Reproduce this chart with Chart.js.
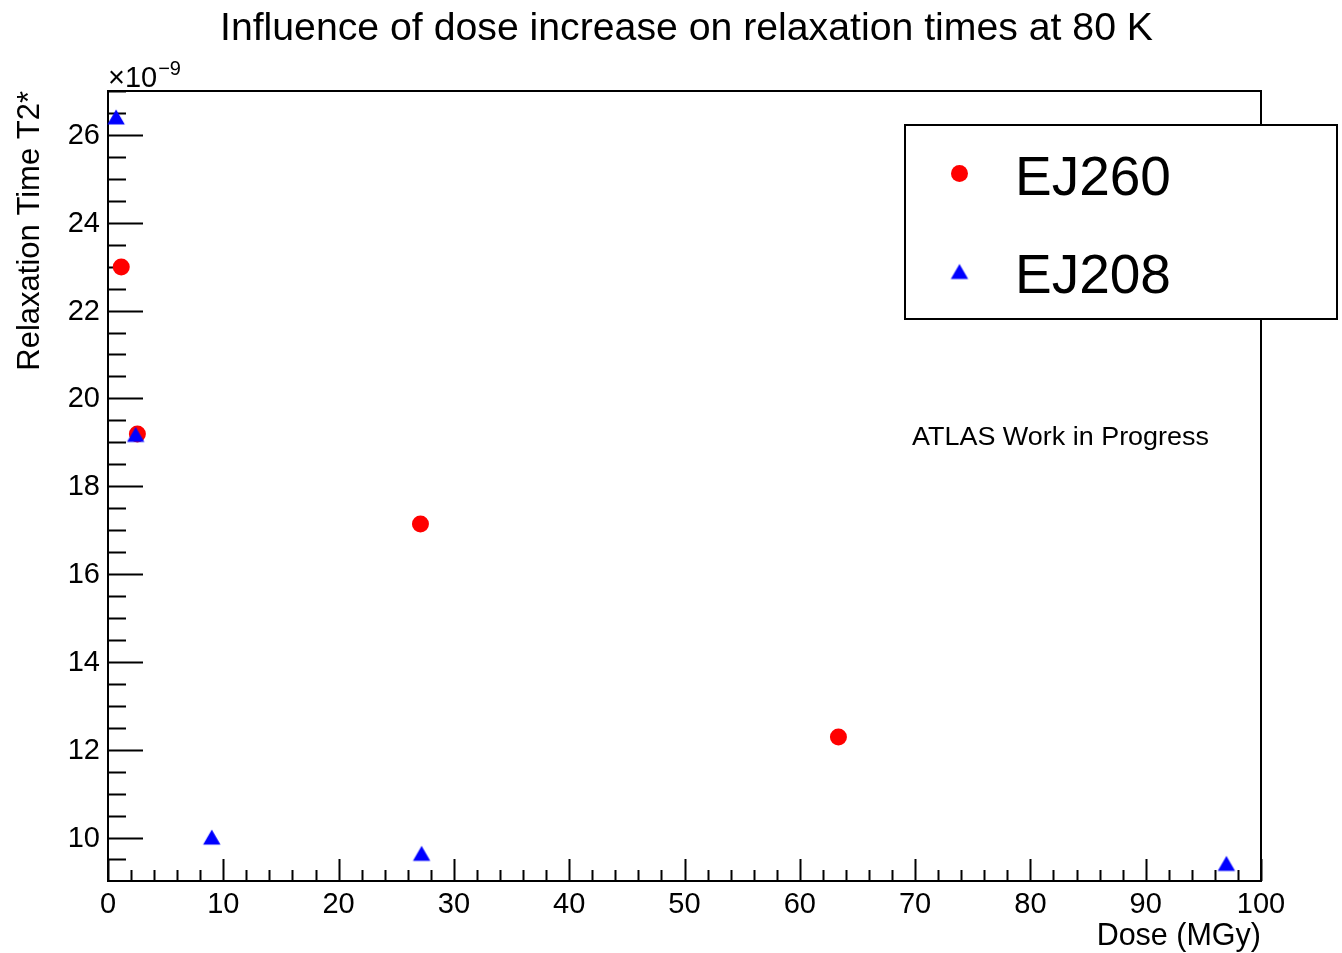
<!DOCTYPE html>
<html>
<head>
<meta charset="utf-8">
<title>Relaxation times vs dose</title>
<script src="https://cdn.jsdelivr.net/npm/chart.js@4.4.1/dist/chart.umd.min.js"></script>
<style>
  body { margin: 0; background: #fff; }
  #wrap { width: 1342px; height: 953px; }
</style>
</head>
<body>
<div id="wrap"><canvas id="relaxChart" width="1342" height="953"></canvas></div>
<script>
// values (dose in MGy, T2* in units of 1e-9 s)
const ej260Dose = [1.15, 2.55, 27.1, 63.35];
const ej260T2 = [22.99, 19.19, 17.14, 12.29];
const ej208Dose = [0.7, 2.4, 9.0, 27.2, 97.0];
const ej208T2 = [26.41, 19.18, 10.01, 9.64, 9.41];

// axis ticks
const xMajorTicks = [0, 10, 20, 30, 40, 50, 60, 70, 80, 90, 100];
const xTickLabels = ['0', '10', '20', '30', '40', '50', '60', '70', '80', '90', '100'];
const yMajorTicks = [10, 12, 14, 16, 18, 20, 22, 24, 26];
const yTickLabels = ['10', '12', '14', '16', '18', '20', '22', '24', '26'];
const xMinorStep = 2;
const yMinorStep = 0.5;

const FONT = '"Liberation Sans", Arial, Helvetica, sans-serif';

// ROOT style up-triangle: centred on its bounding box
function makeTriangle(color) {
    const c = document.createElement('canvas');
    c.width = 20;
    c.height = 20;
    const g = c.getContext('2d');
    g.fillStyle = color;
    g.beginPath();
    g.moveTo(10, 2.5);
    g.lineTo(18.7, 17.5);
    g.lineTo(1.3, 17.5);
    g.closePath();
    g.fill();
    return c;
}
const blueTriangle = makeTriangle('#0000ff');

function toPoints(xs, ys) {
    return xs.map((x, i) => ({ x: x, y: ys[i] }));
}

// draw text squeezed/stretched to a given width
function fitText(ctx, text, x, y, width) {
    const w = ctx.measureText(text).width;
    ctx.save();
    ctx.translate(x, y);
    ctx.scale(width / w, 1);
    ctx.fillText(text, 0, 0);
    ctx.restore();
}

// frame plus inward ROOT-like ticks, drawn under the markers
const framePlugin = {
    id: 'frame',
    beforeDatasetsDraw(chart) {
        const ctx = chart.ctx;
        const a = chart.chartArea;
        const xs = chart.scales.x;
        const ys = chart.scales.y;
        ctx.save();
        ctx.strokeStyle = '#000';
        ctx.lineWidth = 2;
        ctx.strokeRect(a.left, a.top, a.right - a.left, a.bottom - a.top);

        ctx.beginPath();
        // x ticks
        for (let v = xs.min; v <= xs.max + 1e-9; v += xMinorStep) {
            const px = Math.round(xs.getPixelForValue(v)) + 0.5;
            const major = xMajorTicks.some(t => Math.abs(t - v) < 1e-6);
            ctx.moveTo(px, a.bottom);
            ctx.lineTo(px, a.bottom - (major ? 22 : 11));
        }
        // y ticks
        const yStart = Math.ceil(ys.min / yMinorStep) * yMinorStep;
        for (let v = yStart; v <= ys.max + 1e-9; v += yMinorStep) {
            const py = Math.round(ys.getPixelForValue(v)) + 0.5;
            const major = yMajorTicks.some(t => Math.abs(t - v) < 1e-6);
            ctx.moveTo(a.left, py);
            ctx.lineTo(a.left + (major ? 35 : 18), py);
        }
        ctx.stroke();

        // tick labels
        ctx.fillStyle = '#000';
        ctx.font = '29px ' + FONT;
        ctx.textAlign = 'center';
        ctx.textBaseline = 'alphabetic';
        xMajorTicks.forEach((t, i) => {
            ctx.fillText(xTickLabels[i], xs.getPixelForValue(t), 913);
        });
        ctx.textAlign = 'right';
        ctx.textBaseline = 'middle';
        yMajorTicks.forEach((t, i) => {
            ctx.fillText(yTickLabels[i], 100, ys.getPixelForValue(t) + 1);
        });
        ctx.restore();
    },
    afterDraw(chart) {
        const ctx = chart.ctx;
        const a = chart.chartArea;
        ctx.save();
        ctx.fillStyle = '#000';
        ctx.textBaseline = 'alphabetic';
        ctx.textAlign = 'left';

        // title, squeezed to the width it has in the original
        ctx.font = '38px ' + FONT;
        fitText(ctx, 'Influence of dose increase on relaxation times at 80 K', 220, 40, 933);

        // axis titles
        ctx.font = '30.5px ' + FONT;
        ctx.textAlign = 'right';
        ctx.fillText('Dose (MGy)', a.right, 945);
        ctx.save();
        ctx.translate(39, a.top);
        ctx.rotate(-Math.PI / 2);
        ctx.font = '31px ' + FONT;
        ctx.fillText('Relaxation Time T2*', 0, 0);
        ctx.restore();

        // exponent label
        ctx.textAlign = 'left';
        ctx.font = '29px ' + FONT;
        ctx.fillText('\u00d710', 108, 87);
        const ew = ctx.measureText('\u00d710').width;
        ctx.font = '20px ' + FONT;
        ctx.fillText('\u22129', 108 + ew + 1, 75);

        // annotation
        ctx.font = '26px ' + FONT;
        fitText(ctx, 'ATLAS Work in Progress', 912, 445, 297);

        // legend box
        ctx.fillStyle = '#fff';
        ctx.fillRect(905, 125, 432, 194);
        ctx.strokeStyle = '#000';
        ctx.lineWidth = 2;
        ctx.strokeRect(905, 125, 432, 194);
        const ds = chart.data.datasets;
        // red circle entry
        ctx.fillStyle = ds[0].backgroundColor;
        ctx.beginPath();
        ctx.arc(959.5, 173.5, ds[0].pointRadius, 0, Math.PI * 2);
        ctx.fill();
        // blue triangle entry
        ctx.drawImage(ds[1].pointStyle, 949.5, 261.5);
        ctx.fillStyle = '#000';
        ctx.font = '55px ' + FONT;
        ctx.textAlign = 'left';
        ctx.fillText(ds[0].label, 1015, 195);
        ctx.fillText(ds[1].label, 1015, 293);
        ctx.restore();
    }
};

const ctx = document.getElementById('relaxChart').getContext('2d');
const relaxChart = new Chart(ctx, {
    type: 'scatter',
    data: {
        datasets: [{
            label: 'EJ260',
            data: toPoints(ej260Dose, ej260T2),
            backgroundColor: '#ff0000',
            borderWidth: 0,
            pointStyle: 'circle',
            pointRadius: 8.5,
            clip: false,
            order: 1
        }, {
            label: 'EJ208',
            data: toPoints(ej208Dose, ej208T2),
            backgroundColor: '#0000ff',
            borderWidth: 0,
            pointStyle: blueTriangle,
            pointRadius: 10,
            clip: false,
            order: 0
        }]
    },
    options: {
        responsive: false,
        animation: false,
        layout: {
            padding: { left: 108, right: 81, top: 91, bottom: 72 }
        },
        scales: {
            x: { type: 'linear', min: 0, max: 100, display: false },
            y: { type: 'linear', min: 9.01, max: 27.0, display: false }
        },
        plugins: {
            legend: { display: false },
            tooltip: { enabled: false }
        }
    },
    plugins: [framePlugin]
});
</script>
</body>
</html>
